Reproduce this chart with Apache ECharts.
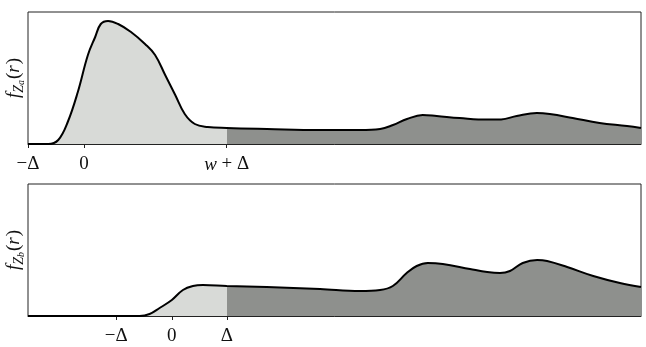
<!DOCTYPE html>
<html>
<head>
<meta charset="utf-8">
<script src="https://cdn.jsdelivr.net/npm/echarts@6/dist/echarts.min.js"></script>
<style>html,body{margin:0;padding:0;background:#fff}#c{width:646px;height:347px}</style>
</head>
<body>
<div id="c"></div>
<script>
// Top panel (x in units of Δ)
const topX = [-1,-0.64,-0.46,-0.29,-0.11,0.07,0.20,0.30,0.43,0.61,0.84,1.09,1.27,1.45,1.63,1.80,1.98,2.21,2.55,3.27,4.21,4.93,5.29,5.52,5.77,6.05,6.30,6.71,7.20,7.45,7.73,8.09,8.32,8.73,9.21,9.70,9.95];
const topY = [0,0,4,22,52,89,107,120,123,120,112,100,89,69,49,30,20,17,16,15,14,14,15,19,25,29,28,26,24.4,24.6,28,31,30,26,21,18,16];
const topTickValues = [-1, 0, 2.55];
const topTickLabels = ['−Δ', '0', '{i|w} + Δ'];
const topSplit = 2.55;

// Bottom panel
const botX = [-2.59,-1.30,-0.58,-0.40,-0.22,0,0.20,0.38,0.56,0.99,1.71,2.67,3.39,3.75,3.98,4.23,4.41,4.61,4.88,5.37,5.68,5.91,6.09,6.32,6.58,6.76,7.12,7.59,8.07,8.45];
const botY = [0,0,0,2,8,16,26,30,31,30,29,27,25,26,30,43,50,53,52,47,44,43,45,53,56,55,49,40,33,29];
const botTickValues = [-1, 0, 0.99];
const botTickLabels = ['−Δ', '0', 'Δ'];
const botSplit = 0.99;

const LIGHT = '#d8dad7', DARK = '#8e908d', AX = '#222';
const serif = 'Liberation Serif';
const FS = 19;

function zip(xs, ys){ return xs.map((x,i)=>[x, ys[i]]); }

function xAxisFor(gridIndex, min, max, vals, labels){
  return {
    type:'value', gridIndex, min, max,
    axisLine:{show:true, onZero:false, lineStyle:{color:AX, width:1}},
    splitLine:{show:false},
    axisTick:{show:true, length:4, customValues: vals, lineStyle:{color:AX}},
    axisLabel:{show:true, customValues: vals, margin:11, color:'#111', fontFamily:serif, fontSize:FS,
      formatter: v => { const i = vals.findIndex(t => Math.abs(t - v) < 1e-9); return i >= 0 ? labels[i] : ''; },
      rich:{ i:{fontFamily:serif, fontStyle:'italic', fontSize:FS, color:'#111'} } }
  };
}
function yAxisFor(gridIndex, sub){
  return {
    type:'value', gridIndex, min:0, max:132,
    axisLine:{show:false, onZero:false}, axisTick:{show:false}, axisLabel:{show:false}, splitLine:{show:false},
    name: '{f|f}{z|Z}{s|' + sub + '}{p|(}{r|r}{p|)}',
    nameLocation:'middle', nameRotate:90, nameGap:2,
    nameTextStyle:{ color:'#111', fontFamily:serif, fontSize:FS,
      rich:{
        f:{fontFamily:serif, fontStyle:'italic', fontSize:FS, color:'#111', lineHeight:24},
        z:{fontFamily:serif, fontStyle:'italic', fontSize:14, color:'#111', verticalAlign:'bottom', lineHeight:24},
        s:{fontFamily:serif, fontStyle:'italic', fontSize:10, color:'#111', verticalAlign:'bottom', lineHeight:21},
        p:{fontFamily:serif, fontSize:FS, color:'#111', lineHeight:24, padding:[0,0,0,1]},
        r:{fontFamily:serif, fontStyle:'italic', fontSize:FS, color:'#111', lineHeight:24}
      } }
  };
}
function series(idx, data){
  return { type:'line', xAxisIndex:idx, yAxisIndex:idx, data, smooth:0.4,
    showSymbol:false, symbol:'none', lineStyle:{color:'#000', width:2}, areaStyle:{opacity:1}, silent:true, animation:false };
}

const chart = echarts.init(document.getElementById('c'), null, {renderer:'canvas'});
chart.setOption({
  animation:false,
  grid:[
    {left:28, right:5, top:12, height:132, show:true, borderColor:AX, borderWidth:1, outerBoundsMode:'none', containLabel:false},
    {left:28, right:5, top:184, height:132, show:true, borderColor:AX, borderWidth:1, outerBoundsMode:'none', containLabel:false}
  ],
  xAxis:[ xAxisFor(0, -1, 9.95, topTickValues, topTickLabels), xAxisFor(1, -2.59, 8.45, botTickValues, botTickLabels) ],
  yAxis:[ yAxisFor(0, 'a'), yAxisFor(1, 'b') ],
  visualMap:[
    {type:'piecewise', show:false, dimension:0, seriesIndex:0, pieces:[{min:-5, max:topSplit, color:LIGHT},{min:topSplit, max:20, color:DARK}]},
    {type:'piecewise', show:false, dimension:0, seriesIndex:1, pieces:[{min:-5, max:botSplit, color:LIGHT},{min:botSplit, max:20, color:DARK}]}
  ],
  series:[ series(0, zip(topX, topY)), series(1, zip(botX, botY)) ]
});
</script>
</body>
</html>
